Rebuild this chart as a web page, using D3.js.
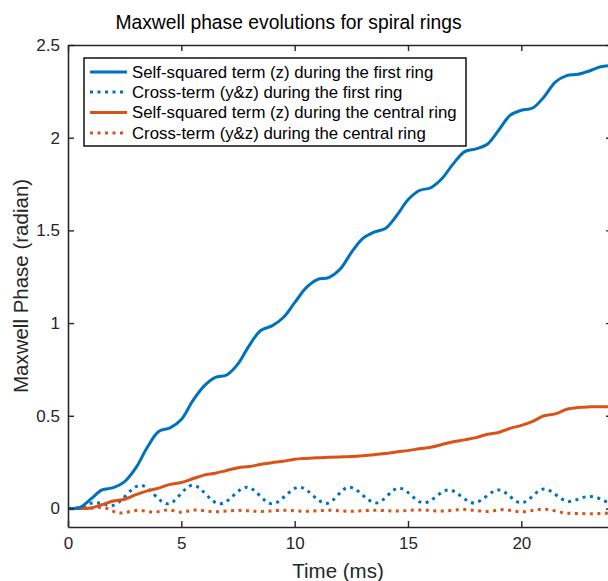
<!DOCTYPE html>
<html>
<head>
<meta charset="utf-8">
<script src="https://cdn.jsdelivr.net/npm/d3@7"></script>
<style>
  html, body { margin: 0; padding: 0; background: #fff; }
  svg { display: block; font-family: "Liberation Sans", Arial, Helvetica, sans-serif; }
</style>
</head>
<body>
<svg id="chart" width="608" height="581"></svg>
<script>
// Time grid (ms) for the self-squared terms
const timeGrid = [0,0.5,1,1.5,2,2.5,3,3.5,4,4.5,5,5.5,6,6.5,7,7.5,8,8.5,9,9.5,10,10.5,11,11.5,12,12.5,13,13.5,14,14.5,15,15.5,16,16.5,17,17.5,18,18.5,19,19.5,20,20.5,21,21.5,22,22.5,23,23.5,24];

// Self-squared term (z), first ring
const selfFirst = [0,0.004,0.05,0.1,0.112,0.145,0.22,0.33,0.415,0.435,0.48,0.58,0.66,0.707,0.72,0.78,0.88,0.96,0.985,1.03,1.11,1.19,1.235,1.245,1.29,1.38,1.455,1.49,1.51,1.58,1.665,1.715,1.73,1.78,1.86,1.925,1.94,1.965,2.04,2.12,2.148,2.16,2.22,2.30,2.335,2.342,2.36,2.383,2.39];

// Self-squared term (z), central ring
const selfCentral = [0,0,0.003,0.02,0.04,0.05,0.075,0.095,0.11,0.13,0.14,0.16,0.18,0.19,0.205,0.22,0.226,0.238,0.247,0.255,0.265,0.27,0.274,0.276,0.278,0.28,0.284,0.29,0.296,0.305,0.312,0.322,0.33,0.345,0.36,0.37,0.382,0.40,0.41,0.432,0.448,0.47,0.50,0.51,0.535,0.545,0.548,0.548,0.548];

// Cross-term (y&z), first ring: [time, phase] at turning points
const crossFirst = [[0,0],[0.5,0.004],[1.1,0.03],[1.4,0.03],[1.9,0.015],[3.2,0.125],[4.4,0.025],[5.5,0.125],[6.7,0.025],[7.9,0.115],[9.0,0.025],[10.2,0.115],[11.4,0.027],[12.4,0.115],[13.6,0.03],[14.6,0.11],[15.7,0.03],[16.8,0.10],[17.9,0.03],[19.0,0.10],[20.0,0.03],[21.0,0.105],[22.1,0.038],[23.0,0.065],[24,0.02]];

// Cross-term (y&z), central ring: [time, phase]
const crossCentral = [[0,0],[0.8,0],[1.5,0.006],[2.3,-0.025],[3.1,-0.01],[3.8,-0.02],[4.4,-0.008],[5.0,-0.02],[5.6,-0.008],[6.5,-0.018],[7.5,-0.01],[8.5,-0.016],[9.5,-0.01],[10.5,-0.015],[11.5,-0.01],[12.5,-0.015],[13.5,-0.01],[14.5,-0.014],[15.5,-0.008],[16.5,-0.014],[17.5,-0.006],[18.5,-0.016],[19.2,-0.006],[20.0,-0.018],[21.0,-0.004],[22.0,-0.025],[23.0,-0.028],[24,-0.025]];

const xTicks = [0,5,10,15,20];
const yTicks = [0,0.5,1,1.5,2,2.5];
const legendLabels = [
  "Self-squared term (z) during the first ring",
  "Cross-term (y&z) during the first ring",
  "Self-squared term (z) during the central ring",
  "Cross-term (y&z) during the central ring"
];

const BLUE = "#0072BD", ORANGE = "#D95319", AXIS = "#262626";

const svg = d3.select("#chart");
const margin = {left: 68, top: 45, right: -4, bottom: 54};
const W = 608 - margin.left - margin.right;
const H = 581 - margin.top - margin.bottom;

const x = d3.scaleLinear().domain([0, 24]).range([margin.left, margin.left + W]);
const y = d3.scaleLinear().domain([-0.1, 2.5]).range([margin.top + H, margin.top]);

const series = [
  {pts: timeGrid.map((t, i) => [t, selfFirst[i]]), color: BLUE, dotted: false},
  {pts: crossFirst, color: BLUE, dotted: true},
  {pts: timeGrid.map((t, i) => [t, selfCentral[i]]), color: ORANGE, dotted: false},
  {pts: crossCentral, color: ORANGE, dotted: true}
];

// sampled series are smoothed with Catmull-Rom, turning-point series with monotone cubic
const smoothLine = d3.line().x(d => x(d[0])).y(d => y(d[1])).curve(d3.curveCatmullRom.alpha(0.5));
const waveLine = d3.line().x(d => x(d[0])).y(d => y(d[1])).curve(d3.curveMonotoneX);

const plot = svg.append("g");
// draw order: dotted first, solid on top
[3, 1, 2, 0].forEach(i => {
  const s = series[i];
  plot.append("path")
    .attr("d", (s.dotted ? waveLine : smoothLine)(s.pts))
    .attr("fill", "none")
    .attr("stroke", s.color)
    .attr("stroke-width", 3)
    .attr("stroke-dasharray", s.dotted ? "3 4.5" : null)
    .attr("stroke-linejoin", "round");
});

// axes box with inward ticks
const tickFont = 17;
const gB = svg.append("g").attr("transform", `translate(0,${margin.top + H})`)
  .call(d3.axisBottom(x).tickValues(xTicks).tickSizeInner(-6).tickSizeOuter(0).tickPadding(10).tickFormat(d3.format("d")));
const gT = svg.append("g").attr("transform", `translate(0,${margin.top})`)
  .call(d3.axisTop(x).tickValues(xTicks).tickSizeInner(-6).tickSizeOuter(0).tickFormat(""));
const gL = svg.append("g").attr("transform", `translate(${margin.left},0)`)
  .call(d3.axisLeft(y).tickValues(yTicks).tickSizeInner(-6).tickSizeOuter(0).tickPadding(8).tickFormat(d => d3.format("")(d)));
const gR = svg.append("g").attr("transform", `translate(${margin.left + W},0)`)
  .call(d3.axisRight(y).tickValues(yTicks).tickSizeInner(-6).tickSizeOuter(0).tickFormat(""));

[gB, gT, gL, gR].forEach(g => {
  g.select(".domain").attr("stroke", AXIS).attr("stroke-width", 1.6);
  g.selectAll(".tick line").attr("stroke", AXIS).attr("stroke-width", 1.4);
  g.selectAll("text").attr("fill", AXIS).style("font-size", tickFont + "px").style("font-family", "Liberation Sans, Arial, sans-serif");
});

// legend
const leg = svg.append("g");
leg.append("rect").attr("x", 84).attr("y", 58).attr("width", 382).attr("height", 88)
  .attr("fill", "#fff").attr("stroke", "#000").attr("stroke-width", 1.4);
const rowY = [72, 92, 112.5, 133];
series.forEach((s, i) => {
  leg.append("line").attr("x1", 90).attr("x2", 127).attr("y1", rowY[i]).attr("y2", rowY[i])
    .attr("stroke", s.color).attr("stroke-width", 3)
    .attr("stroke-dasharray", s.dotted ? "3 4.5" : null);
  leg.append("text").attr("x", 132).attr("y", rowY[i]).attr("dy", "0.35em")
    .attr("fill", "#000").style("font-size", "16.8px").text(legendLabels[i]);
});

// title and axis labels
svg.append("text").attr("x", 288.5).attr("y", 28.5).attr("text-anchor", "middle")
  .attr("fill", "#000").style("font-size", "19.3px").text("Maxwell phase evolutions for spiral rings");
svg.append("text").attr("x", 338).attr("y", 578).attr("text-anchor", "middle")
  .attr("fill", AXIS).style("font-size", "20.5px").text("Time (ms)");
svg.append("text").attr("transform", `translate(28,${margin.top + H / 2}) rotate(-90)`)
  .attr("text-anchor", "middle").attr("fill", AXIS).style("font-size", "20.5px").text("Maxwell Phase (radian)");
</script>
</body>
</html>
